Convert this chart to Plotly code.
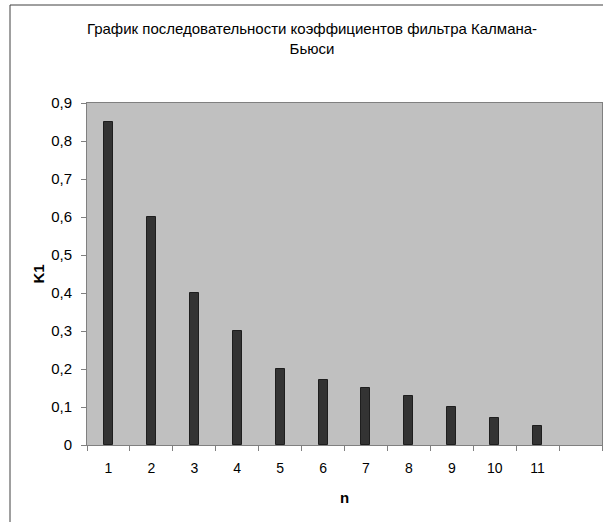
import plotly.graph_objects as go

# Data
n_labels = ["1", "2", "3", "4", "5", "6", "7", "8", "9", "10", "11", " "]
k1_values = [0.85, 0.6, 0.4, 0.3, 0.2, 0.17, 0.15, 0.13, 0.1, 0.07, 0.05, None]
y_tickvals = [0, 0.1, 0.2, 0.3, 0.4, 0.5, 0.6, 0.7, 0.8, 0.9]
y_ticktext = ["0", "0,1", "0,2", "0,3", "0,4", "0,5", "0,6", "0,7", "0,8", "0,9"]

title_text = "График последовательности коэффициентов фильтра Калмана-<br>Бьюси"

W, H = 603, 522
L, R, T, B = 87, 1, 103, 77
pw, ph = W - L - R, H - T - B

FONT = "Liberation Sans, Arial, sans-serif"
FS = 15

fig = go.Figure()
fig.add_trace(go.Bar(
    x=n_labels,
    y=k1_values,
    width=0.21,
    marker=dict(color="#333333", line=dict(color="#1e1e1e", width=1)),
    showlegend=False,
    hoverinfo="x+y",
))

def px_x(px):
    return (px - L) / pw

def px_y(py):
    return (H - B - py) / ph

fig.update_layout(
    width=W, height=H,
    margin=dict(l=L, r=R, t=T, b=B, pad=0),
    paper_bgcolor="white",
    plot_bgcolor="#C0C0C0",
    font=dict(family=FONT, size=FS, color="black"),
    title=dict(
        text=title_text,
        x=312 / W, xanchor="center", xref="container",
        y=1 - 34 / H, yanchor="middle", yref="container",
        font=dict(family=FONT, size=FS, color="black"),
    ),
    bargap=0,
    xaxis=dict(
        type="category",
        categoryorder="array",
        categoryarray=n_labels,
        range=[-0.5, 11.5],
        tickson="boundaries",
        ticks="outside", ticklen=5, tickcolor="#808080", tickwidth=1,
        ticklabelstandoff=10,
        showline=True, linecolor="#808080", linewidth=1, mirror=True,
        showgrid=False, zeroline=False,
        tickfont=dict(family=FONT, size=14, color="black"),
        title=dict(text="<b>n</b>", standoff=17,
                   font=dict(family=FONT, size=FS, color="black")),
        fixedrange=True,
    ),
    yaxis=dict(
        range=[0, 0.9],
        tickvals=y_tickvals, ticktext=y_ticktext,
        ticks="outside", ticklen=5, tickcolor="#808080", tickwidth=1,
        ticklabelstandoff=6,
        showline=True, linecolor="#808080", linewidth=1, mirror=True,
        showgrid=False, zeroline=False,
        tickfont=dict(family=FONT, size=FS, color="black"),
        title=dict(text="<b>K1</b>", standoff=2,
                   font=dict(family=FONT, size=FS, color="black")),
        fixedrange=True,
    ),
    shapes=[
        dict(type="line", xref="paper", yref="paper",
             x0=px_x(10), x1=px_x(10), y0=px_y(5), y1=px_y(540),
             line=dict(color="#404040", width=1)),
        dict(type="line", xref="paper", yref="paper",
             x0=px_x(10), x1=px_x(620), y0=px_y(5), y1=px_y(5),
             line=dict(color="#404040", width=1)),
    ],
)

fig.write_html(
    "out.html",
    config={"displayModeBar": False},
    post_script="document.body.style.margin='0';document.body.style.overflow='hidden';",
)
